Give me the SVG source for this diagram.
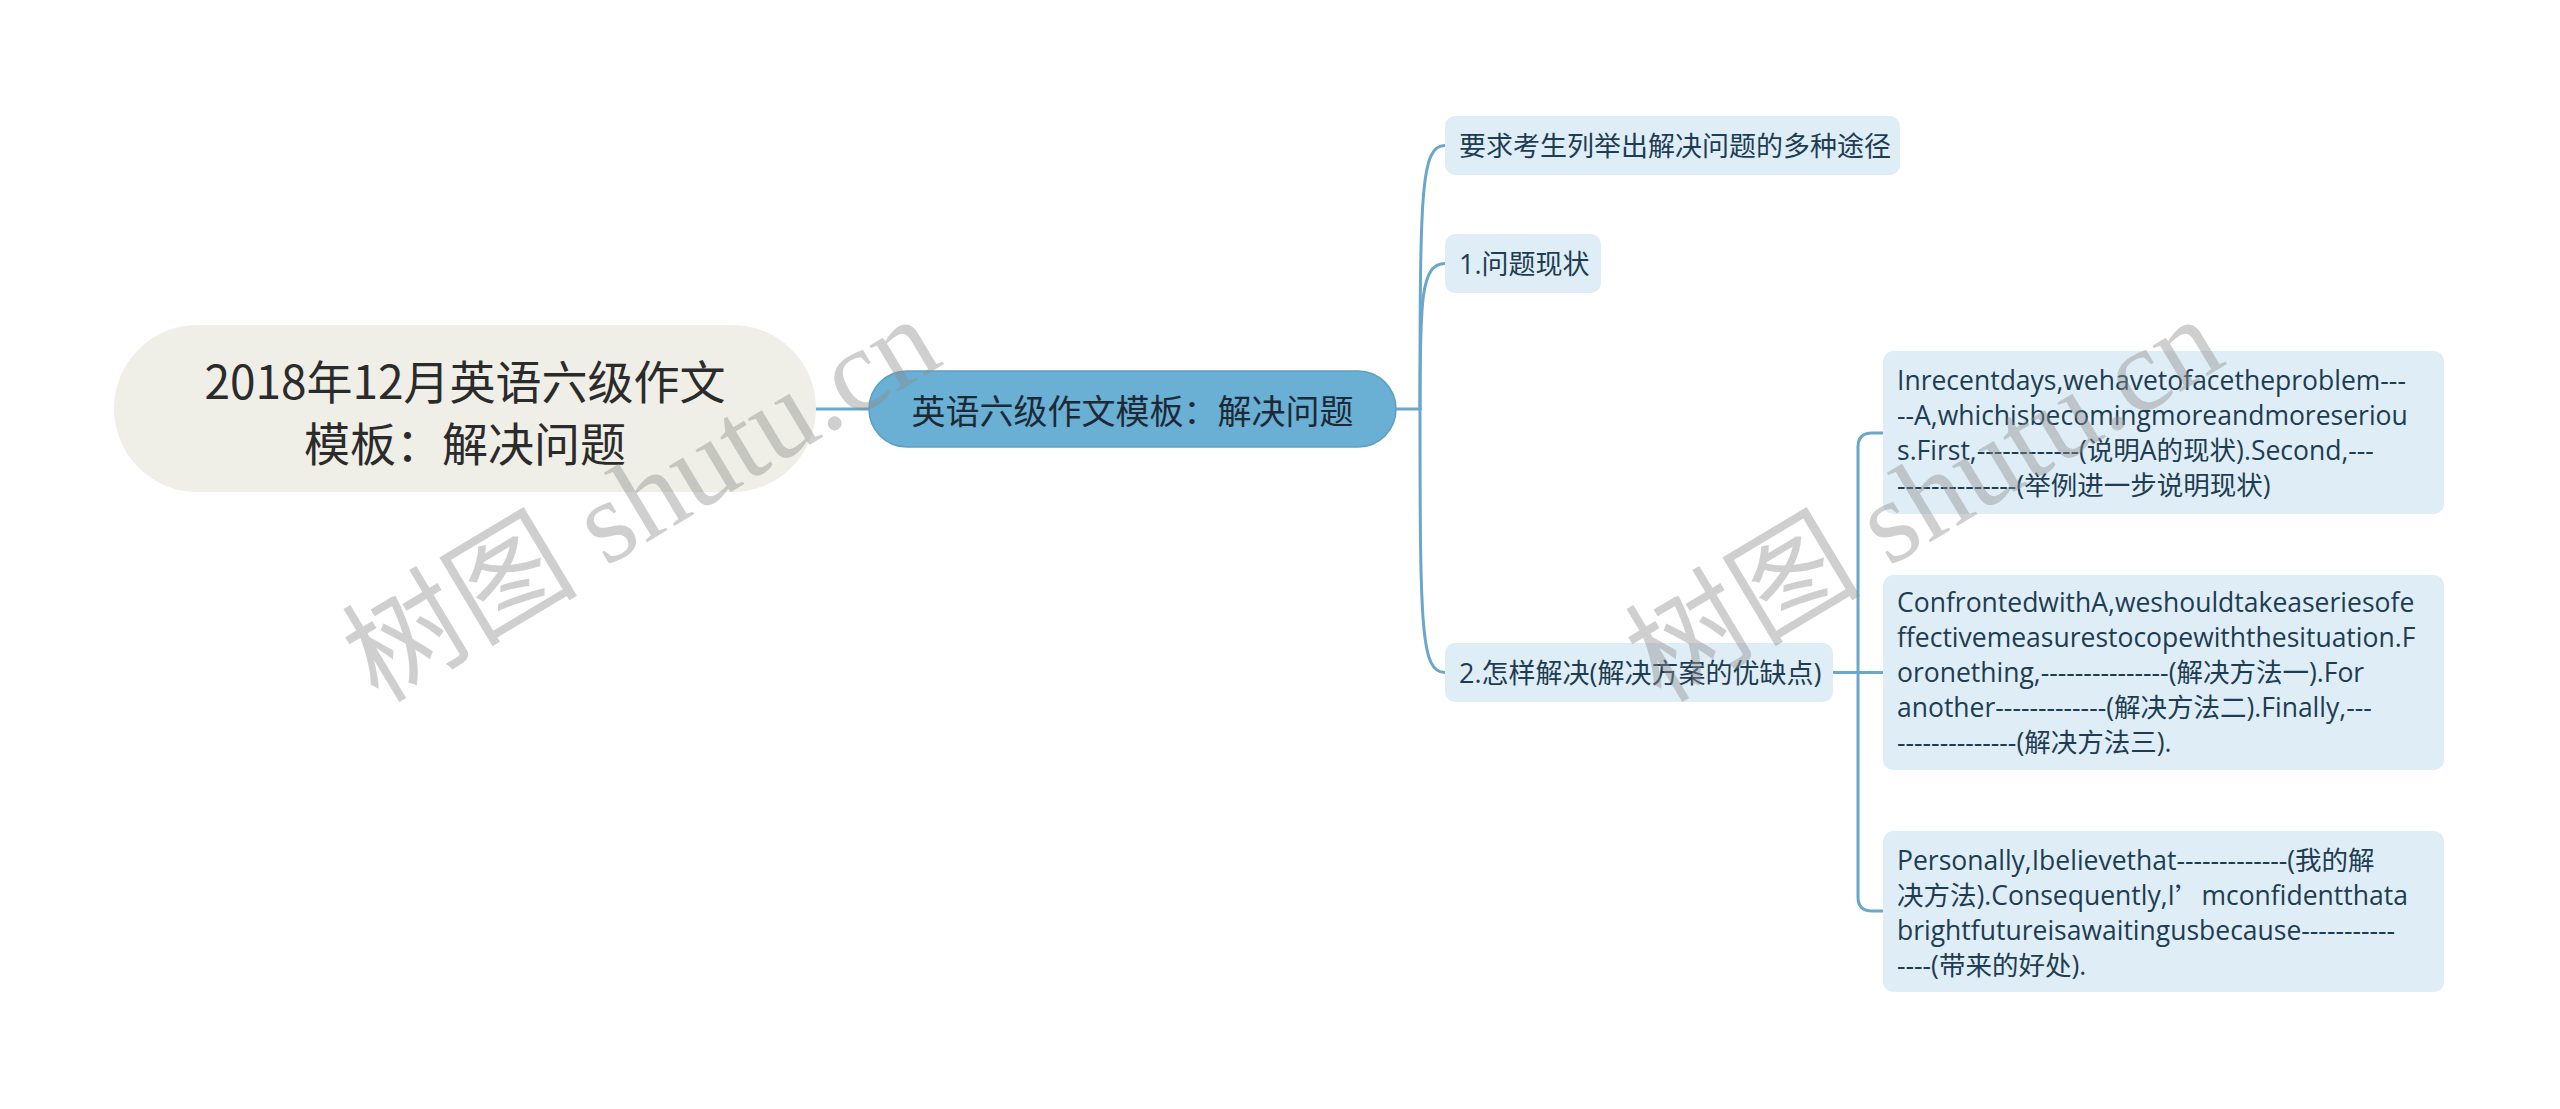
<svg xmlns="http://www.w3.org/2000/svg" width="2560" height="1109" viewBox="0 0 2560 1109">
<style>
.conn{fill:none;stroke:#6aa7ca;stroke-width:3;stroke-linecap:round}
.box{fill:#dfeef6}
.t2{font-family:"Open Sans","Noto Sans CJK SC",sans-serif;font-size:27px;fill:#1e3c52}
.t3{font-family:"Open Sans","Noto Sans CJK SC",sans-serif;font-size:26.5px;fill:#1e3c52}
.cjk{font-family:"Noto Sans CJK SC",sans-serif}
.wm{font-family:"Liberation Serif","Noto Sans CJK SC",serif;font-size:118px;fill:#8f8f8f;opacity:0.42}
</style>
<rect width="2560" height="1109" fill="#ffffff"/>
<g id="connectors">
<path class="conn" d="M816,409 H869"/>
<path class="conn" d="M1396,409 H1420"/>
<path class="conn" d="M1420,409 C1420,190 1421,145.5 1445,145.5"/>
<path class="conn" d="M1420,409 C1420,300 1421,263.5 1445,263.5"/>
<path class="conn" d="M1420,409 C1420,630 1421,672.5 1445,672.5"/>
<path class="conn" d="M1832,672.5 H1883"/>
<path class="conn" d="M1883,433 H1872 Q1858,433 1858,447 V897 Q1858,911 1872,911 H1883"/>
</g>
<g id="root">
<rect x="114" y="325" width="702" height="167" rx="83.5" fill="#efefe7"/>
<text x="465" y="379" text-anchor="middle" dominant-baseline="central" font-family="Noto Sans CJK SC, sans-serif" font-size="46" fill="#2b2b2b">2018年12月英语六级作文</text>
<text x="465" y="441" text-anchor="middle" dominant-baseline="central" font-family="Noto Sans CJK SC, sans-serif" font-size="46" fill="#2b2b2b">模板：解决问题</text>
</g>
<g id="main">
<rect x="869" y="371" width="527" height="76" rx="38" fill="#6aafd4" stroke="#5d9fc4" stroke-width="1.5"/>
<text x="1132.5" y="409" text-anchor="middle" dominant-baseline="central" font-family="Noto Sans CJK SC, sans-serif" font-size="34" fill="#1d2a36">英语六级作文模板：解决问题</text>
</g>
<g id="n-methods">
<rect class="box" x="1445" y="116" width="455" height="59" rx="10"/>
<text class="t2" x="1459" y="145.5" dominant-baseline="central">要求考生列举出解决问题的多种途径</text>
</g>
<g id="n-status">
<rect class="box" x="1445" y="234" width="156" height="59" rx="10"/>
<text class="t2" x="1459" y="263.5" dominant-baseline="central">1.问题现状</text>
</g>
<g id="n-solve">
<rect class="box" x="1445" y="643" width="388" height="59" rx="10"/>
<text class="t2" x="1459" y="672.5" dominant-baseline="central">2.怎样解决(解决方案的优缺点)</text>
</g>
<g id="n-a">
<rect class="box" x="1883" y="351" width="561" height="163" rx="10"/>
<text class="t3" x="1897" dominant-baseline="central">
<tspan x="1897" y="380">Inrecentdays,wehavetofacetheproblem---</tspan>
<tspan x="1897" y="415">--A,whichisbecomingmoreandmoreseriou</tspan>
<tspan x="1897" y="450">s.First,------------(说明A的现状).Second,---</tspan>
<tspan x="1897" y="485">--------------(举例进一步说明现状)</tspan>
</text>
</g>
<g id="n-b">
<rect class="box" x="1883" y="575" width="561" height="195" rx="10"/>
<text class="t3" x="1897" dominant-baseline="central">
<tspan x="1897" y="602">ConfrontedwithA,weshouldtakeaseriesofe</tspan>
<tspan x="1897" y="637">ffectivemeasurestocopewiththesituation.F</tspan>
<tspan x="1897" y="672">oronething,---------------(解决方法一).For</tspan>
<tspan x="1897" y="707">another-------------(解决方法二).Finally,---</tspan>
<tspan x="1897" y="742">--------------(解决方法三).</tspan>
</text>
</g>
<g id="n-c">
<rect class="box" x="1883" y="831" width="561" height="161" rx="10"/>
<text class="t3" x="1897" dominant-baseline="central">
<tspan x="1897" y="860">Personally,Ibelievethat-------------(我的解</tspan>
<tspan x="1897" y="895">决方法).Consequently,I<tspan class="cjk">’</tspan>mconfidentthata</tspan>
<tspan x="1897" y="930">brightfutureisawaitingusbecause-----------</tspan>
<tspan x="1897" y="965">----(带来的好处).</tspan>
</text>
</g>
<g id="watermarks">
<text class="wm" transform="translate(378,704) rotate(-31)">树图 shutu.cn</text>
<text class="wm" transform="translate(1661,704) rotate(-31)">树图 shutu.cn</text>
</g>
</svg>
